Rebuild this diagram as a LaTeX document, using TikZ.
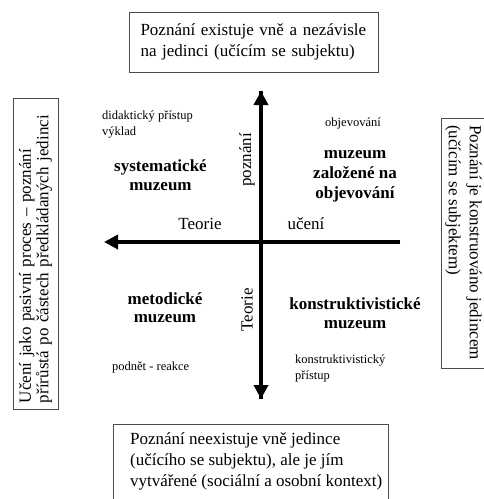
\documentclass[tikz,border=0pt]{standalone}
\usepackage{fontspec}
\setmainfont{Liberation Serif}
\usetikzlibrary{arrows.meta}

\begin{document}
\begin{tikzpicture}[x=1pt, y=-1pt,
    frame/.style = {draw=black!70, line width=0.9pt, inner ysep=0pt},
    bigtext/.style = {font=\fontsize{17}{21}\selectfont},
    smalltext/.style = {font=\fontsize{12.5}{16}\selectfont, align=left, inner sep=0pt},
    quadrant/.style = {font=\fontsize{17}{19}\selectfont\bfseries, align=center, inner sep=0pt},
    axis/.style = {line width=4pt, -{Triangle[length=14pt, width=14pt]}}]
    \useasboundingbox (0,0) rectangle (484,499);

    % Boxes round the picture
    \node[frame, bigtext, align=left, text width=226, minimum width=249, minimum height=60]
        (top) at (253.5,42) {Poznání existuje vně a nezávisle\\na jedinci (učícím se subjektu)};
    \node[frame, font=\fontsize{17}{17.5}\selectfont, align=left, rotate=90, text width=299,
        inner xsep=6, minimum width=311, minimum height=45] (left) at (35.5,253.5)
        {Učení jako pasivní proces -- poznání\\přírůstá po částech předkládaných jedinci};

    % these two run off the page
    \node[bigtext, align=left, anchor=north west, inner sep=0pt] (bottom) at (130,432)
        {Poznání neexistuje vně jedince\\(učícího se subjektu), ale je jím\\vytvářené (sociální a osobní kontext)};
    \draw[frame] (113,424) rectangle (388,506);
    \node[bigtext, align=left, rotate=-90, anchor=west, inner sep=0pt] (right) at (463.5,125)
        {Poznání je konstruováno jedincem\\(učícím se subjektem)};
    \draw[frame] (441,118) rectangle (490,368);

    % Axes
    \coordinate (ytop) at (261,91);
    \coordinate (ybot) at (261,399);
    \coordinate (xleft) at (104,242);
    \coordinate (xright) at (400,242);
    \draw[axis] (ybot) -- (ytop);
    \draw[axis] (ytop) -- (ybot);
    \draw[axis] (xright) -- (xleft);

    % Axis labels
    \node[bigtext, rotate=90] (poznani) at (247,160) {poznání};
    \node[bigtext, rotate=90] (teorieY) at (247,310) {Teorie};
    \node[bigtext] (teorieX) at (200,224) {Teorie};
    \node[bigtext] (uceni) at (306,224) {učení};

    % Quadrants
    \node[quadrant] (systematicke) at (160.5,175) {systematické\\muzeum};
    \node[quadrant, font=\fontsize{17}{20}\selectfont\bfseries] (objevovani) at (355,176)
        {muzeum\\založené na\\objevování};
    \node[quadrant, font=\fontsize{17}{18}\selectfont\bfseries] (metodicke) at (165,308) {metodické\\muzeum};
    \node[quadrant] (konstrukt) at (355,313.5) {konstruktivistické\\muzeum};

    % Small notes
    \node[smalltext, anchor=west] (didakt) at (102,124) {didaktický přístup\\výklad};
    \node[smalltext] (objev) at (353,123) {objevování};
    \node[smalltext, anchor=west] (podnet) at (112,367) {podnět - reakce};
    \node[smalltext, anchor=west] (konpristup) at (295,368.5) {konstruktivistický\\přístup};
\end{tikzpicture}
\end{document}
